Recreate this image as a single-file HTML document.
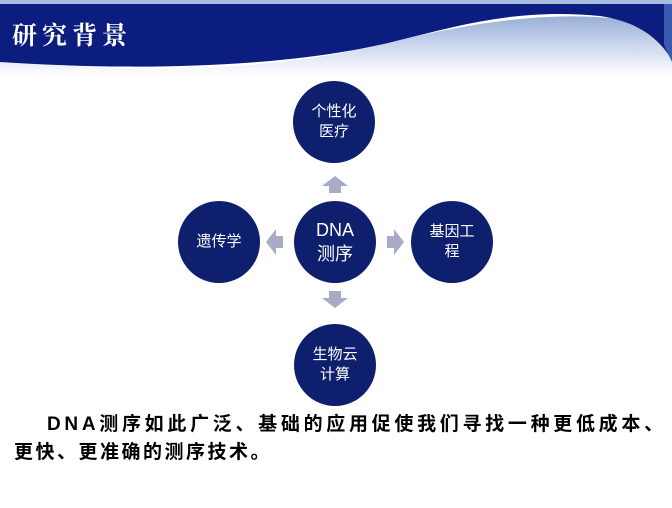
<!DOCTYPE html>
<html><head><meta charset="utf-8"><style>
body{margin:0;width:672px;height:508px;background:#fff;overflow:hidden;position:relative;font-family:"Liberation Sans","Noto Sans CJK SC",sans-serif}
.c{position:absolute;width:82px;height:82px;border-radius:50%;background:#0e1f6e;color:#fff;display:flex;align-items:center;justify-content:center;text-align:center;font-size:15px;line-height:20px}
.t{position:absolute;left:14px;top:411px;width:680px;font-size:19px;letter-spacing:2.5px;font-weight:bold;line-height:28px;color:#000;white-space:nowrap;font-family:"Liberation Sans","Noto Sans CJK SC",sans-serif}
</style></head><body>
<svg width="672" height="508" style="position:absolute;left:0;top:0">
<defs><linearGradient id="g" x1="0" y1="0" x2="0" y2="1"><stop offset="0" stop-color="#7f9bd0"/><stop offset="1" stop-color="#fff"/></linearGradient></defs>
<path d="M0,60 C120,72 250,75 380,45 C470,22 560,8 640,22 L672,55 L672,75 L0,75Z" fill="url(#g)" opacity="0.8"/>
<path d="M0,4 L672,4 L672,60 C660,40 640,22 600,16 C520,8 460,25 400,40 C300,66 150,72 0,62Z" fill="#0b1e80"/>
<rect x="0" y="0" width="672" height="4" fill="#a7bce0"/>
<path d="M664,4 L672,4 L672,62 L664,45Z" fill="#3a5ab0"/>
<g fill="#a9aac6">
<polygon points="329,193 341,193 341,186 348,186 335,176 322,186 329,186"/>
<polygon points="329,291 341,291 341,298 348,298 335,308 322,298 329,298"/>
<polygon points="283,236 283,248 276,248 276,255 266,242 276,229 276,236"/>
<polygon points="387,236 387,248 394,248 394,255 404,242 394,229 394,236"/>
</g>
<text x="12" y="44" font-family="Liberation Serif,'Noto Serif CJK SC',serif" font-weight="bold" font-size="25" fill="#fff" letter-spacing="5">研究背景</text>
</svg>
<div class="c" style="left:293px;top:81px">个性化<br>医疗</div>
<div class="c" style="left:294px;top:201px;font-size:18px;line-height:24px">DNA<br>测序</div>
<div class="c" style="left:178px;top:201px">遗传学</div>
<div class="c" style="left:411px;top:201px">基因工<br>程</div>
<div class="c" style="left:294px;top:324px">生物云<br>计算</div>
<div class="t"><span style="padding-left:33px"></span><span style="letter-spacing:3.7px">DNA测序如此广泛、基础的应用促使我们寻找一种更低成本、</span><br>更快、更准确的测序技术。</div>
</body></html>
